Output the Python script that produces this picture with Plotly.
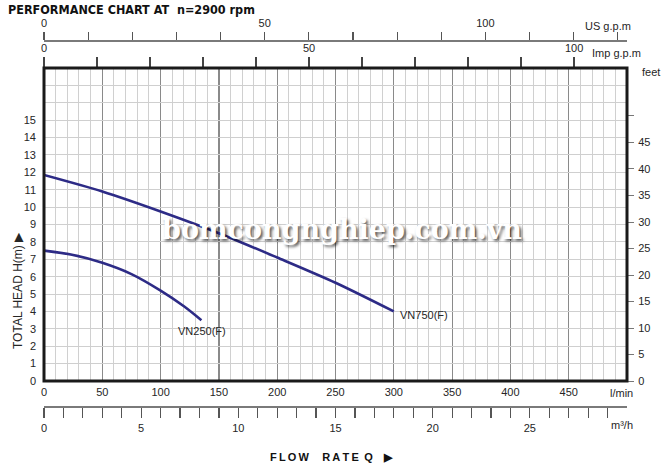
import plotly.graph_objects as go

# ---------------- data ----------------
vn750_flow = [0, 50, 100, 150, 200, 250, 300]          # l/min
vn750_head = [11.85, 10.9, 9.75, 8.5, 7.1, 5.65, 4.0]  # m
vn250_flow = [0, 25, 50, 75, 100, 120, 135]
vn250_head = [7.5, 7.25, 6.8, 6.15, 5.2, 4.3, 3.5]

lmin_ticks = [0, 50, 100, 150, 200, 250, 300, 350, 400, 450, 500]
lmin_text = ["0", "50", "100", "150", "200", "250", "300", "350", "400", "450", ""]
head_ticks = list(range(0, 19))
head_text = [str(v) if v <= 15 else "" for v in head_ticks]
feet_ticks = [0, 5, 10, 15, 20, 25, 30, 35, 40, 45, 50]
feet_text = [str(v) if v <= 45 else "" for v in feet_ticks]
us_ticks = list(range(0, 140, 10))
us_text = [str(v) if v in (0, 50, 100) else "" for v in us_ticks]
imp_ticks = list(range(0, 110, 10))
imp_text = [str(v) if v in (0, 50, 100) else "" for v in imp_ticks]
m3h_ticks = list(range(0, 30))
m3h_text = [str(v) if v % 5 == 0 else "" for v in m3h_ticks]

FLOW_MAX = 500.0          # l/min
HEAD_MAX = 18.0           # m
L_PER_USG = 3.78541
L_PER_IMPG = 4.54609

W, H = 663, 467
def px(x):
    return x / W
def py(y):
    return 1 - y / H

X0, X1 = 44, 627
Y0, Y1 = 381, 68
xdom = [px(X0), px(X1)]
ydom = [py(Y0), py(Y1)]

FONT = "Liberation Sans, Arial, sans-serif"
TXT = "#262626"
CURVE = "#2d2b86"

fig = go.Figure()

fig.add_trace(go.Scatter(x=vn750_flow, y=vn750_head, mode="lines",
                         line=dict(color=CURVE, width=2.6, shape="spline", smoothing=0.8),
                         showlegend=False, hoverinfo="skip"))
fig.add_trace(go.Scatter(x=vn250_flow, y=vn250_head, mode="lines",
                         line=dict(color=CURVE, width=2.6, shape="spline", smoothing=0.8),
                         showlegend=False, hoverinfo="skip"))
# dummy traces so every auxiliary axis is drawn
for xa, ya in [("x2", "y"), ("x3", "y"), ("x4", "y"), ("x", "y2")]:
    fig.add_trace(go.Scatter(x=[0], y=[0], xaxis=xa, yaxis=ya, mode="markers",
                             marker=dict(opacity=0), showlegend=False, hoverinfo="skip"))

tickfont = dict(family=FONT, size=11, color=TXT)

fig.update_layout(
    width=W, height=H,
    margin=dict(l=0, r=0, t=0, b=0, autoexpand=False),
    paper_bgcolor="white", plot_bgcolor="white",
    showlegend=False,
    xaxis=dict(domain=xdom, range=[0, FLOW_MAX], anchor="y", automargin=False,
               tickvals=lmin_ticks, ticktext=lmin_text, tickfont=tickfont,
               showgrid=True, gridcolor="#8a8a8a", gridwidth=1.2,
               minor=dict(dtick=10, showgrid=True, gridcolor="#d0d0d0", gridwidth=1),
               ticks="", ticklabelstandoff=3, zeroline=False, showline=False,
               fixedrange=True),
    yaxis=dict(domain=ydom, range=[0, HEAD_MAX], anchor="x", automargin=False,
               tickvals=head_ticks, ticktext=head_text, tickfont=tickfont,
               showgrid=True, gridcolor="#cfcfcf", gridwidth=1,
               ticks="", ticklabelstandoff=7, zeroline=False, showline=False,
               fixedrange=True),
    yaxis2=dict(domain=ydom, range=[0, HEAD_MAX / 0.3048], overlaying="y", side="right",
                anchor="x", automargin=False, tickvals=feet_ticks, ticktext=feet_text,
                tickfont=tickfont, showgrid=False, zeroline=False, showline=False,
                ticks="outside", ticklen=6, tickcolor="#777777", tickwidth=1,
                ticklabelstandoff=2, fixedrange=True),
    xaxis2=dict(domain=xdom, range=[0, FLOW_MAX / L_PER_IMPG], overlaying="x", side="top",
                anchor="y", automargin=False, tickvals=imp_ticks, ticktext=imp_text,
                tickfont=tickfont, showgrid=False, zeroline=False, showline=False,
                ticks="outside", ticklen=10, tickcolor="#444444", tickwidth=1.2,
                ticklabelstandoff=1, fixedrange=True),
    xaxis3=dict(domain=xdom, range=[0, FLOW_MAX / L_PER_USG], overlaying="x", side="top",
                anchor="free", position=py(40), automargin=False,
                tickvals=us_ticks, ticktext=us_text,
                tickfont=tickfont, showgrid=False, zeroline=False,
                showline=True, linecolor="#7a7a7a", linewidth=1.5,
                ticks="outside", ticklen=8, tickcolor="#555555", tickwidth=1.2,
                ticklabelstandoff=1, fixedrange=True),
    xaxis4=dict(domain=xdom, range=[0, FLOW_MAX * 60 / 1000], overlaying="x", side="bottom",
                anchor="free", position=py(406), automargin=False,
                tickvals=m3h_ticks, ticktext=m3h_text,
                tickfont=tickfont, showgrid=False, zeroline=False,
                showline=True, linecolor="#7a7a7a", linewidth=1.5,
                ticks="outside", ticklen=10, tickcolor="#555555", tickwidth=1.2,
                ticklabelstandoff=1, fixedrange=True),
)

# thick plot frame
fig.add_shape(type="rect", xref="x domain", yref="y domain", x0=0, x1=1, y0=0, y1=1,
              line=dict(color="#1a1a1a", width=3), layer="above")

ann = []
def text(x, y, s, size=11, xanchor="center", yanchor="middle", angle=0, **font):
    f = dict(family=FONT, size=size, color=TXT)
    f.update(font)
    ann.append(dict(x=px(x), y=py(y), xref="paper", yref="paper", text=s,
                    showarrow=False, xanchor=xanchor, yanchor=yanchor,
                    textangle=angle, font=f))

text(6, 9, "PERFORMANCE CHART AT  n=2900 rpm", size=12.5, xanchor="left",
     family="DejaVu Sans Condensed, DejaVu Sans, sans-serif", weight="bold", color="#111111")
text(583, 26, "US g.p.m", xanchor="left")
text(590, 53, "Imp g.p.m", xanchor="left")
text(640, 72, "feet", xanchor="left")
text(621, 393, "l/min")
text(622, 425, "m³/h")
text(18, 291, "TOTAL HEAD H(m) \u25b6", size=12, angle=-90)
text(331, 457, "F\u2009L\u2009O\u2009W\u2003\u2009R\u2009A\u2009T\u2009E\u2002Q\u2003\u25b6", size=11,
     weight="bold", color="#111111")

ann.append(dict(x=135.5, y=2.88, xref="x", yref="y", text="VN250(F)", showarrow=False,
                font=dict(family=FONT, size=11, color=TXT)))
ann.append(dict(x=303.5, y=3.8, xref="x", yref="y", text="VN750(F)", showarrow=False,
                xanchor="left", font=dict(family=FONT, size=11, color=TXT)))

ann.append(dict(x=px(342), y=py(230), xref="paper", yref="paper",
                text="bomcongnghiep.com.vn", showarrow=False,
                font=dict(family="DejaVu Serif, serif", size=27, color="white",
                          weight="bold", shadow="2px 2px 3px rgba(0,0,0,0.65)")))

fig.update_layout(annotations=ann)

fig.write_html("out.html", config={"displayModeBar": False, "staticPlot": True},
               post_script="document.body.style.margin='0';document.body.style.padding='0';")
